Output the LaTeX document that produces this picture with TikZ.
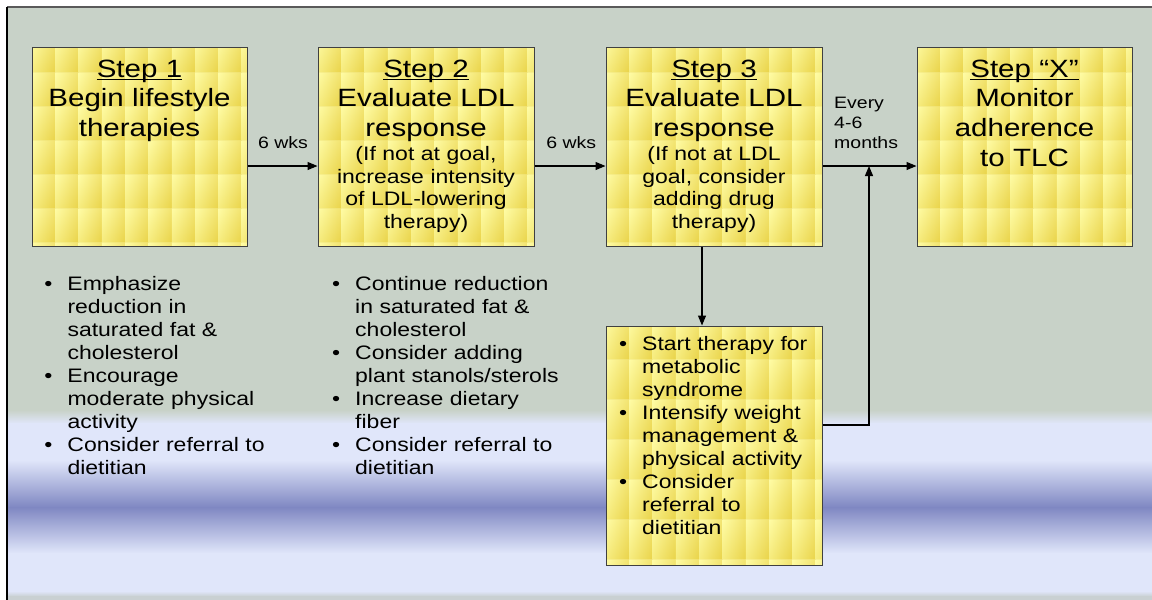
\documentclass[tikz,border=0pt]{standalone}
\usepackage{fontspec}
\setmainfont[FakeStretch=1.18]{Liberation Sans}
\usetikzlibrary{arrows.meta}
\definecolor{bggreen}{HTML}{C8D2C8}
\definecolor{bglav}{HTML}{E0E6FA}
\definecolor{bgblue}{HTML}{7F87C2}
\definecolor{bggray}{HTML}{C9D0D2}
\definecolor{wl}{HTML}{FFFB9A}
\definecolor{wd}{HTML}{EDD84E}
\definecolor{wtop}{HTML}{FFFFC0}
\definecolor{wbot}{HTML}{E2CA40}
\definecolor{framegray}{HTML}{5A5A5A}
\newcommand\myul[1]{\setbox0\hbox{#1}\rlap{\rule[-2.8pt]{\wd0}{1.5pt}}\box0}
\newcommand\bi{\leavevmode\llap{•\hspace{15pt}}}
\begin{document}
\begin{tikzpicture}[x=1pt,y=-1pt,
  weave/.style 2 args={path picture={
      \coordinate (wnw) at ([yshift=#2]path picture bounding box.north west);
      \foreach \i in {0,...,9}{\foreach \j in {0,...,6}{
        \shade[left color=wl, right color=wd] ([shift={(\i*23.3,\j*#1)}]wnw) rectangle ++(23.3,#1);
      }}
      \foreach \j in {0,...,6}{
        \shade[top color=wtop, bottom color=wbot, opacity=0.3] ([shift={(0,\j*#1)}]wnw) rectangle ++(240,#1);
      }
  }},
  stepbox/.style={draw=black!75, line width=1pt, inner sep=0pt, rectangle},
  ttl/.style={anchor=north, inner sep=0pt, align=center, text width=215pt, font=\fontsize{25}{29.7}\selectfont},
  sub/.style={anchor=north, inner sep=0pt, align=center, text width=215pt, font=\fontsize{19.5}{22.5}\selectfont},
  bul/.style={anchor=north west, inner sep=0pt, align=left, text width=250pt, font=\fontsize{19.5}{22.9}\selectfont},
  lab/.style={inner sep=0pt, font=\fontsize{16.5}{20}\selectfont},
  conn/.style={draw=black, line width=1.2pt, -{Triangle[length=10pt,width=8pt]}},
  line/.style={draw=black, line width=1.2pt}
]
\useasboundingbox (0,0) rectangle (1152,600);
% background
\fill[white] (0,0) rectangle (1152,600);
\fill[bggreen] (7,7) rectangle (1152,410);
\shade[top color=bggreen, bottom color=bglav] (7,410) rectangle (1152,423.5);
\fill[bglav] (7,423) rectangle (1152,460.5);
\shade[top color=bglav, bottom color=bgblue] (7,460) rectangle (1152,507.5);
\shade[top color=bgblue, bottom color=bglav] (7,507) rectangle (1152,553.5);
\fill[bglav] (7,553) rectangle (1152,591.5);
\shade[top color=bglav, bottom color=bggray] (7,591) rectangle (1152,596.5);
\fill[bggray] (7,596) rectangle (1152,600);
\draw[framegray, line width=1.6pt] (7,7) -- (1152,7);
\draw[black, line width=1.6pt] (7,7) -- (7,600);

% boxes
\node[stepbox, minimum width=215pt, minimum height=199pt, weave={34}{9}] (b1) at (139.5,146.5) {};
\node[stepbox, minimum width=216pt, minimum height=199pt, weave={34}{9}] (b2) at (426,146.5) {};
\node[stepbox, minimum width=216pt, minimum height=199pt, weave={34}{9}] (b3) at (714,146.5) {};
\node[stepbox, minimum width=215pt, minimum height=199pt, weave={34}{9}] (b4) at (1024.5,146.5) {};
\node[stepbox, minimum width=216pt, minimum height=239pt, weave={40}{7}] (b5) at (714,445.5) {};

% box texts
\node[ttl] (t1) at (139.5,57) {\rule{0pt}{20pt}\myul{Step 1}\\Begin lifestyle\\therapies};
\node[ttl] (t2) at (426,57) {\rule{0pt}{20pt}\myul{Step 2}\\Evaluate LDL\\response};
\node[sub] (s2) at (426,144.7) {\rule{0pt}{16pt}(If not at goal,\\increase intensity\\of LDL-lowering\\therapy)};
\node[ttl] (t3) at (714,57) {\rule{0pt}{20pt}\myul{Step 3}\\Evaluate LDL\\response};
\node[sub] (s3) at (714,144.7) {\rule{0pt}{16pt}(If not at LDL\\goal, consider\\adding drug\\therapy)};
\node[ttl] (t4) at (1024.5,57) {\rule{0pt}{20pt}\myul{Step “X”}\\Monitor\\adherence\\to TLC};

% bullet lists
\node[bul] (l1) at (67.3,274.7) {\rule{0pt}{16pt}\bi Emphasize\\reduction in\\saturated fat \&\\cholesterol\\\bi Encourage\\moderate physical\\activity\\\bi Consider referral to\\dietitian};
\node[bul] (l2) at (355,274.7) {\rule{0pt}{16pt}\bi Continue reduction\\in saturated fat \&\\cholesterol\\\bi Consider adding\\plant stanols/sterols\\\bi Increase dietary\\fiber\\\bi Consider referral to\\dietitian};
\node[bul, font=\fontsize{19.5}{23}\selectfont] (l3) at (642,334) {\rule{0pt}{16pt}\bi Start therapy for\\metabolic\\syndrome\\\bi Intensify weight\\management \&\\physical activity\\\bi Consider\\referral to\\dietitian};

% labels
\node[lab, anchor=base] (w1) at (283,148.3) {6 wks};
\node[lab, anchor=base] (w2) at (571.3,148.3) {6 wks};
\node[lab, anchor=north west, align=left] (ev) at (834,94.3) {\rule{0pt}{14pt}Every\\4-6\\months};

% connectors
\coordinate (ay) at (0,166);
\coordinate (vx) at (702,0);
\coordinate (rx) at (869,0);
\coordinate (ry) at (0,425);
\draw[conn] (b1.east |- ay) -- (b2.west |- ay);
\draw[conn] (b2.east |- ay) -- (b3.west |- ay);
\draw[conn] (b3.east |- ay) -- (b4.west |- ay);
\draw[conn] (b3.south -| vx) -- (b5.north -| vx);
\draw[conn] (b5.east |- ry) -| (rx |- ay);
\end{tikzpicture}
\end{document}
